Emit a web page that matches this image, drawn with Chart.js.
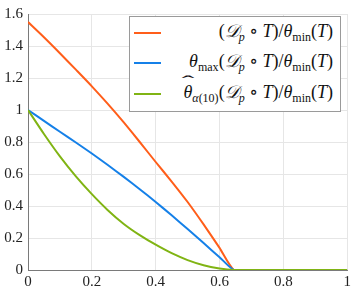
<!DOCTYPE html>
<html>
<head>
<meta charset="utf-8">
<script src="https://cdn.jsdelivr.net/npm/chart.js"></script>
<style>
  body { margin: 0; background: #fff; }
  #wrap { position: relative; width: 354px; height: 295px; }
  #legend {
    position: absolute; left: 129px; top: 16px; width: 210px; height: 94px;
    border: 1px solid #9a9a9a; background: #fff;
    font-family: "Liberation Serif", "DejaVu Serif", serif; font-size: 18px; color: #111;
  }
  .row { position: absolute; left: 0; right: 0; height: 24px; }
  .row .swatch { position: absolute; left: 4px; top: 11px; width: 27px; height: 2px; }
  .row .txt { position: absolute; right: 7px; top: -1px; white-space: nowrap; }
  sub { font-size: 12px; vertical-align: -4px; line-height: 0; }
  .hat { position: relative; display: inline-block; }
  .hat::before { content: "ˆ"; position: absolute; left: 0px; top: -10px; font-style: normal;
    font-size: 17px; transform: scaleX(2.2); transform-origin: 1px 0; }
</style>
</head>
<body>
<div id="wrap">
  <canvas id="chart" width="354" height="295"></canvas>
  <div id="legend">
    <div class="row" style="top:4px"><div class="swatch" style="background:#ff5e1a"></div>
      <div class="txt">(<i>𝒟</i><sub><i>p</i></sub> ∘ <i>T</i>)/<i>θ</i><sub>min</sub>(<i>T</i>)</div></div>
    <div class="row" style="top:34px"><div class="swatch" style="background:#1580e8"></div>
      <div class="txt"><i>θ</i><sub>max</sub>(<i>𝒟</i><sub><i>p</i></sub> ∘ <i>T</i>)/<i>θ</i><sub>min</sub>(<i>T</i>)</div></div>
    <div class="row" style="top:65px"><div class="swatch" style="background:#80b414"></div>
      <div class="txt"><i class="hat">θ</i><sub><i>α</i>(10)</sub>(<i>𝒟</i><sub><i>p</i></sub> ∘ <i>T</i>)/<i>θ</i><sub>min</sub>(<i>T</i>)</div></div>
  </div>
</div>
<script>
const xs =        [0,    0.05,  0.1,   0.15,  0.2,   0.25,  0.3,   0.35,  0.4,   0.45,  0.5,   0.55,  0.6,   0.645, 0.7, 0.8, 0.9, 1];
const dpRatio =   [1.55, 1.455, 1.355, 1.252, 1.148, 1.038, 0.922, 0.8,   0.675, 0.553, 0.425, 0.285, 0.138, 0,     0,   0,   0,   0];
const maxRatio =  [1.0,  0.932, 0.864, 0.797, 0.728, 0.656, 0.582, 0.505, 0.425, 0.342, 0.256, 0.168, 0.08,  0,     0,   0,   0,   0];
const hatRatio =  [1.0,  0.85,  0.71,  0.585, 0.474, 0.374, 0.288, 0.218, 0.158, 0.105, 0.062, 0.03,  0.01,  0,     0,   0,   0,   0];
const seriesNames = ['(Dp∘T)/θmin(T)', 'θmax(Dp∘T)/θmin(T)', 'θ̂α(10)(Dp∘T)/θmin(T)'];

const toPts = vals => xs.map((x, i) => ({ x: x, y: vals[i] }));
const tickFont = { family: 'Liberation Serif', size: 15 };

new Chart(document.getElementById('chart').getContext('2d'), {
    type: 'line',
    data: {
        datasets: [
            { label: seriesNames[0], data: toPts(dpRatio), borderColor: '#ff5e1a', order: 3 },
            { label: seriesNames[1], data: toPts(maxRatio), borderColor: '#1580e8', order: 2 },
            { label: seriesNames[2], data: toPts(hatRatio), borderColor: '#80b414', order: 1 }
        ]
    },
    options: {
        responsive: false,
        animation: false,
        layout: { padding: { top: 7, right: 6 } },
        elements: {
            point: { radius: 0 },
            line: { borderWidth: 2, tension: 0.2, fill: false }
        },
        plugins: { legend: { display: false }, tooltip: { enabled: false } },
        scales: {
            x: {
                type: 'linear', min: 0, max: 1,
                ticks: { stepSize: 0.2, color: '#222', font: tickFont, padding: 3, maxRotation: 0,
                    callback: v => String(+v.toFixed(1)) },
                grid: { color: '#e6e6e6', drawTicks: false },
                border: { color: '#7a7a7a' },
                afterFit: s => { s.height = 25; }
            },
            y: {
                min: 0, max: 1.6,
                ticks: { stepSize: 0.2, color: '#222', font: tickFont, padding: 5,
                    callback: v => String(+v.toFixed(1)) },
                grid: { color: '#e6e6e6', drawTicks: false },
                border: { color: '#7a7a7a' },
                afterFit: s => { s.width = 28; }
            }
        }
    }
});
</script>
</body>
</html>
